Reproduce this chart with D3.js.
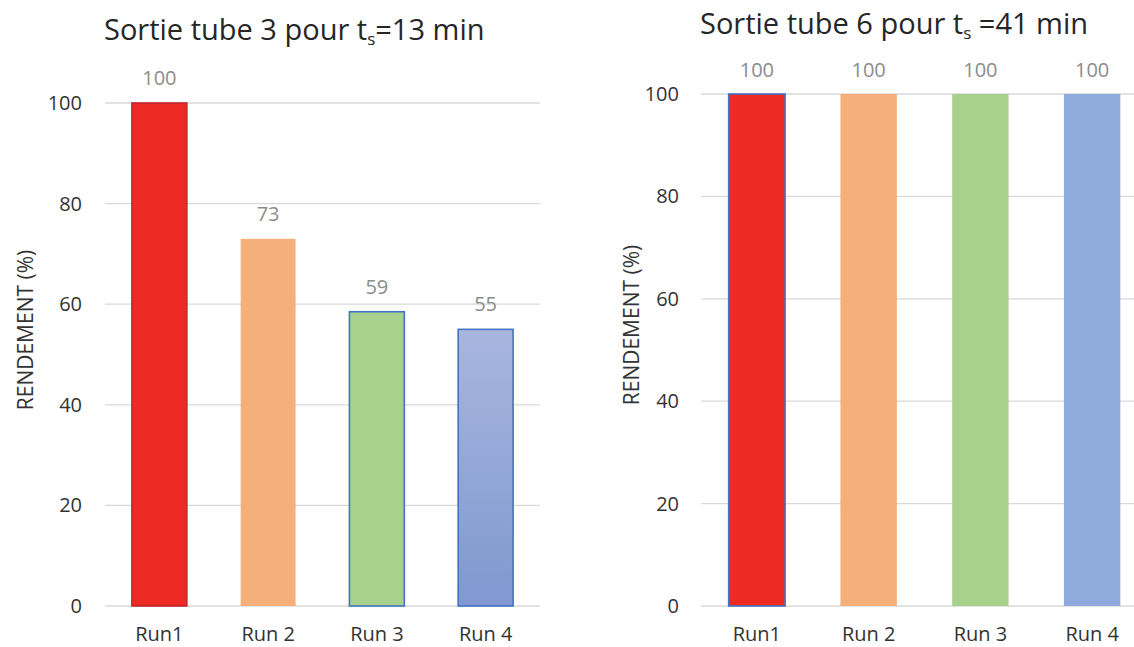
<!DOCTYPE html>
<html><head><meta charset="utf-8">
<script src="https://cdn.jsdelivr.net/npm/d3@7"></script>
<style>body{margin:0;background:#fff;} svg{display:block;}</style>
</head><body>
<svg id="c" width="1134" height="647"></svg>
<script>
const categories = ["Run1", "Run 2", "Run 3", "Run 4"];
const tube3Values = [100, 73, 58.5, 55];
const tube6Values = [100, 100, 100, 100];
const yTicks = [0, 20, 40, 60, 80, 100];
const fillColors = ["#EE2A24", "#F4AF7B", "#A9D18E", "#8FAADC"];
const font = "'Open Sans', sans-serif";

const svg = d3.select("#c");
const defs = svg.append("defs");
const grad = defs.append("linearGradient").attr("id", "g4").attr("x1", 0).attr("y1", 0).attr("x2", 0).attr("y2", 1);
grad.append("stop").attr("offset", "0%").attr("stop-color", "#A8B6DF");
grad.append("stop").attr("offset", "100%").attr("stop-color", "#7F98CF");

function drawChart(cfg) {
  const x = d3.scaleBand().domain(categories).range([cfg.x0, cfg.x1]).paddingInner(0.495).paddingOuter(0.2475);
  const y = d3.scaleLinear().domain([0, 100]).range([cfg.yBottom, cfg.yTop]);
  const g = svg.append("g");
  g.selectAll("line.grid").data(yTicks).join("line")
    .attr("x1", cfg.gx0).attr("x2", cfg.gx1)
    .attr("y1", d => y(d)).attr("y2", d => y(d))
    .attr("stroke", "#d9d9d9").attr("stroke-width", 1.3);
  const ax = g.append("g").attr("transform", `translate(${cfg.gx0},0)`)
    .call(d3.axisLeft(y).tickValues(yTicks).tickSize(0).tickPadding(cfg.tickPad));
  ax.select(".domain").remove();
  ax.selectAll("text").attr("font-family", font).attr("font-size", 20).attr("fill", "#333");
  g.selectAll("rect.bar").data(cfg.values).join("rect")
    .attr("x", (d, i) => x(categories[i]))
    .attr("width", x.bandwidth())
    .attr("y", d => y(d))
    .attr("height", d => y(0) - y(d))
    .attr("fill", (d, i) => cfg.fills[i])
    .attr("stroke", (d, i) => cfg.strokes[i])
    .attr("stroke-width", 1.6);
  g.selectAll("text.lbl").data(cfg.values).join("text")
    .attr("x", (d, i) => x(categories[i]) + x.bandwidth() / 2)
    .attr("y", d => y(d) - cfg.lblOff)
    .attr("text-anchor", "middle")
    .attr("font-family", font).attr("font-size", 20).attr("fill", "#8c8c8c")
    .text(d => d3.format(".0f")(d));
  const xa = g.append("g").attr("transform", `translate(0,${cfg.yBottom})`)
    .call(d3.axisBottom(x).tickSize(0).tickPadding(21));
  xa.select(".domain").remove();
  xa.selectAll("text").attr("font-family", font).attr("font-size", 20).attr("fill", "#333");
  g.append("text")
    .attr("transform", `translate(${cfg.ytx},${cfg.yty}) rotate(-90)`)
    .attr("text-anchor", "middle")
    .attr("font-family", font).attr("font-size", 21).attr("fill", "#333")
    .text("RENDEMENT (%)");
  const t = g.append("text").attr("x", cfg.tx).attr("y", cfg.ty)
    .attr("font-family", font).attr("font-size", 29).attr("fill", "#262626");
  t.append("tspan").text(cfg.title1);
  t.append("tspan").attr("font-size", 17).attr("dy", 5).text("s");
  t.append("tspan").attr("dy", -5).text(cfg.title2);
}

drawChart({
  x0: 105, x1: 540, gx0: 105, gx1: 540, yTop: 103, yBottom: 606, tickPad: 23, lblOff: 18,
  values: tube3Values,
  fills: ["#EE2A24", "#F4AF7B", "#A9D18E", "url(#g4)"],
  strokes: ["#C0282C", "none", "#4472C4", "#4472C4"],
  ytx: 33, yty: 330, tx: 104, ty: 40,
  title1: "Sortie tube 3 pour t", title2: "=13 min"
});
drawChart({
  x0: 701, x1: 1148, gx0: 701, gx1: 1134, yTop: 94, yBottom: 606, tickPad: 22, lblOff: 17,
  values: tube6Values,
  fills: fillColors,
  strokes: ["#4472C4", "none", "none", "none"],
  ytx: 639, yty: 325, tx: 700, ty: 34,
  title1: "Sortie tube 6 pour t", title2: " =41 min"
});
</script>
</body></html>
